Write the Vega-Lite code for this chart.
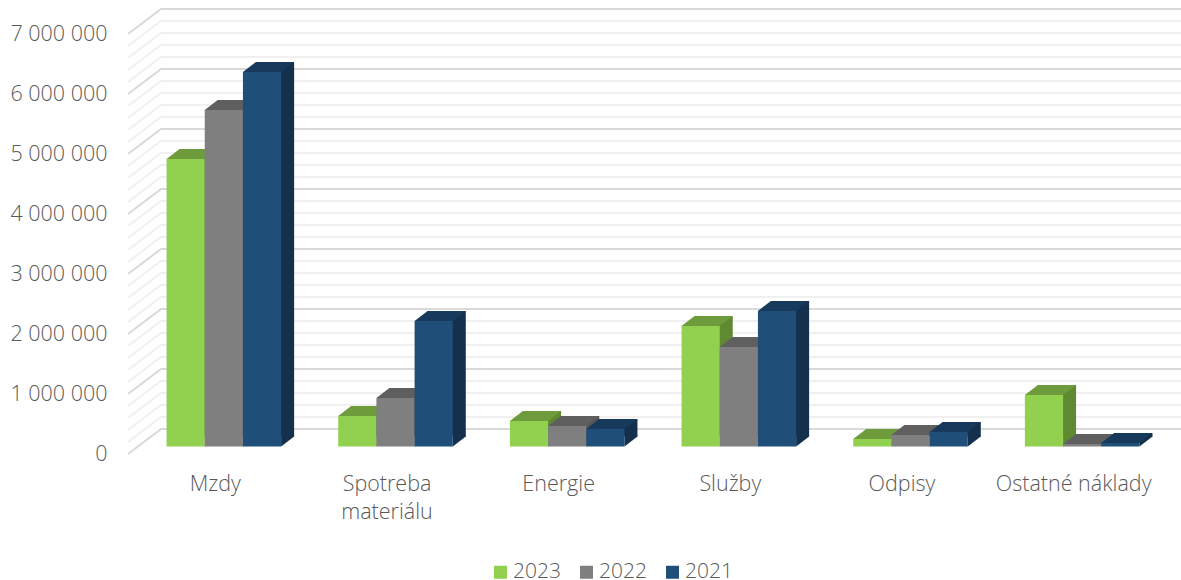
{"$schema":"https://vega.github.io/schema/vega-lite/v6.json","width":1030,"height":420,"autosize":{"type":"none"},"padding":{"left":138,"top":26.5,"right":13,"bottom":133.5},"background":"white","view":{"stroke":null},"config":{"font":"Open Sans"},"datasets":{"bars":[{"cat":"Mzdy","year":"2023","value":4790000},{"cat":"Mzdy","year":"2022","value":5610000},{"cat":"Mzdy","year":"2021","value":6240000},{"cat":"Spotreba materiálu","year":"2023","value":510000},{"cat":"Spotreba materiálu","year":"2022","value":810000},{"cat":"Spotreba materiálu","year":"2021","value":2090000},{"cat":"Energie","year":"2023","value":425000},{"cat":"Energie","year":"2022","value":340000},{"cat":"Energie","year":"2021","value":290000},{"cat":"Služby","year":"2023","value":2010000},{"cat":"Služby","year":"2022","value":1660000},{"cat":"Služby","year":"2021","value":2260000},{"cat":"Odpisy","year":"2023","value":125000},{"cat":"Odpisy","year":"2022","value":190000},{"cat":"Odpisy","year":"2021","value":240000},{"cat":"Ostatné náklady","year":"2023","value":860000},{"cat":"Ostatné náklady","year":"2022","value":40000},{"cat":"Ostatné náklady","year":"2021","value":60000}],"grid":[{"cat":"Mzdy","value":0,"major":true},{"cat":"Mzdy","value":200000,"major":false},{"cat":"Mzdy","value":400000,"major":false},{"cat":"Mzdy","value":600000,"major":false},{"cat":"Mzdy","value":800000,"major":false},{"cat":"Mzdy","value":1000000,"major":true},{"cat":"Mzdy","value":1200000,"major":false},{"cat":"Mzdy","value":1400000,"major":false},{"cat":"Mzdy","value":1600000,"major":false},{"cat":"Mzdy","value":1800000,"major":false},{"cat":"Mzdy","value":2000000,"major":true},{"cat":"Mzdy","value":2200000,"major":false},{"cat":"Mzdy","value":2400000,"major":false},{"cat":"Mzdy","value":2600000,"major":false},{"cat":"Mzdy","value":2800000,"major":false},{"cat":"Mzdy","value":3000000,"major":true},{"cat":"Mzdy","value":3200000,"major":false},{"cat":"Mzdy","value":3400000,"major":false},{"cat":"Mzdy","value":3600000,"major":false},{"cat":"Mzdy","value":3800000,"major":false},{"cat":"Mzdy","value":4000000,"major":true},{"cat":"Mzdy","value":4200000,"major":false},{"cat":"Mzdy","value":4400000,"major":false},{"cat":"Mzdy","value":4600000,"major":false},{"cat":"Mzdy","value":4800000,"major":false},{"cat":"Mzdy","value":5000000,"major":true},{"cat":"Mzdy","value":5200000,"major":false},{"cat":"Mzdy","value":5400000,"major":false},{"cat":"Mzdy","value":5600000,"major":false},{"cat":"Mzdy","value":5800000,"major":false},{"cat":"Mzdy","value":6000000,"major":true},{"cat":"Mzdy","value":6200000,"major":false},{"cat":"Mzdy","value":6400000,"major":false},{"cat":"Mzdy","value":6600000,"major":false},{"cat":"Mzdy","value":6800000,"major":false},{"cat":"Mzdy","value":7000000,"major":true}]},"encoding":{"x":{"field":"cat","type":"nominal","title":null,"scale":{"domain":["Mzdy","Spotreba materiálu","Energie","Služby","Odpisy","Ostatné náklady"],"paddingInner":0,"paddingOuter":0},"axis":{"title":null,"domain":false,"ticks":false,"grid":false,"labelAngle":0,"labelFontSize":21.5,"labelFont":"Open Sans","labelFontWeight":300,"labelColor":"#595959","labelPadding":27,"labelOffset":-8.5,"labelLimit":300,"labelLineHeight":28,"labelExpr":"datum.value=='Spotreba materiálu'?['Spotreba','materiálu']:datum.label"}},"y":{"field":"value","type":"quantitative","title":null,"scale":{"domain":[0,7000000],"nice":false},"axis":{"title":null,"domain":false,"ticks":false,"grid":false,"values":[0,1000000,2000000,3000000,4000000,5000000,6000000,7000000],"labelExpr":"replace(format(datum.value,','),/,/g,' ')","labelFontSize":21.5,"labelFont":"Open Sans","labelFontWeight":300,"labelColor":"#595959","labelPadding":31,"labelOffset":8}}},"layer":[{"data":{"name":"grid"},"layer":[{"transform":[{"filter":"!datum.major"}],"mark":{"type":"point","shape":"M0,0L33,-25L1053,-25","size":4,"filled":false,"opacity":1,"stroke":"#f0f0f0","strokeWidth":2,"xOffset":-95.83,"yOffset":7.5}},{"transform":[{"filter":"datum.major"}],"mark":{"type":"point","shape":"M0,0L33,-25L1053,-25","size":4,"filled":false,"opacity":1,"stroke":"#d9d9d9","strokeWidth":2,"xOffset":-95.83,"yOffset":7.5}}]},{"data":{"name":"bars"},"transform":[{"filter":"datum.year=='2023'"}],"resolve":{"scale":{"xOffset":"independent"}},"layer":[{"mark":{"type":"bar","color":"#5f8a32","yOffset":-10,"y2Offset":-10},"encoding":{"xOffset":{"field":"year","type":"nominal","scale":{"domain":["2023","2022","2021"],"paddingInner":0,"paddingOuter":0.7475,"align":0.7277}}}},{"mark":{"type":"point","shape":"M19.1,0L32.1,-10L32.1,-11L19.1,-11Z","size":4,"filled":true,"opacity":1,"color":"#5f8a32","strokeWidth":0},"encoding":{"xOffset":{"field":"year","type":"nominal","scale":{"type":"band","domain":["2023","2022","2021"],"paddingInner":0,"paddingOuter":0.7475}},"y":{"datum":0,"type":"quantitative","title":null,"scale":{"domain":[0,7000000],"nice":false},"axis":{"title":null,"domain":false,"ticks":false,"grid":false,"values":[0,1000000,2000000,3000000,4000000,5000000,6000000,7000000],"labelExpr":"replace(format(datum.value,','),/,/g,' ')","labelFontSize":21.5,"labelFont":"Open Sans","labelFontWeight":300,"labelColor":"#595959","labelPadding":31,"labelOffset":8}}}},{"mark":{"type":"point","shape":"M-19.1,0L-6.1,-10L32.1,-10L19.1,0Z","size":4,"filled":true,"opacity":1,"color":"#6e9c3c","strokeWidth":0},"encoding":{"xOffset":{"field":"year","type":"nominal","scale":{"type":"band","domain":["2023","2022","2021"],"paddingInner":0,"paddingOuter":0.7475}}}},{"mark":{"type":"bar"},"encoding":{"xOffset":{"field":"year","type":"nominal","scale":{"domain":["2023","2022","2021"],"paddingInner":0,"paddingOuter":0.7475}},"color":{"field":"year","type":"nominal","scale":{"domain":["2023","2022","2021"],"range":["#92d050","#7f7f7f","#1f4e79"]},"legend":{"title":null,"orient":"none","legendX":352,"legendY":535,"direction":"horizontal","columns":3,"symbolType":"square","symbolSize":169,"symbolStrokeWidth":0,"labelFontSize":21,"labelFont":"Open Sans","labelFontWeight":300,"labelColor":"#595959","labelOffset":2,"columnPadding":15,"symbolOpacity":1}}}}]},{"data":{"name":"bars"},"transform":[{"filter":"datum.year=='2022'"}],"resolve":{"scale":{"xOffset":"independent"}},"layer":[{"mark":{"type":"bar","color":"#555555","yOffset":-10,"y2Offset":-10},"encoding":{"xOffset":{"field":"year","type":"nominal","scale":{"domain":["2023","2022","2021"],"paddingInner":0,"paddingOuter":0.7475,"align":0.7277}}}},{"mark":{"type":"point","shape":"M19.1,0L32.1,-10L32.1,-11L19.1,-11Z","size":4,"filled":true,"opacity":1,"color":"#555555","strokeWidth":0},"encoding":{"xOffset":{"field":"year","type":"nominal","scale":{"type":"band","domain":["2023","2022","2021"],"paddingInner":0,"paddingOuter":0.7475}},"y":{"datum":0,"type":"quantitative","title":null,"scale":{"domain":[0,7000000],"nice":false},"axis":{"title":null,"domain":false,"ticks":false,"grid":false,"values":[0,1000000,2000000,3000000,4000000,5000000,6000000,7000000],"labelExpr":"replace(format(datum.value,','),/,/g,' ')","labelFontSize":21.5,"labelFont":"Open Sans","labelFontWeight":300,"labelColor":"#595959","labelPadding":31,"labelOffset":8}}}},{"mark":{"type":"point","shape":"M-19.1,0L-6.1,-10L32.1,-10L19.1,0Z","size":4,"filled":true,"opacity":1,"color":"#5f5f5f","strokeWidth":0},"encoding":{"xOffset":{"field":"year","type":"nominal","scale":{"type":"band","domain":["2023","2022","2021"],"paddingInner":0,"paddingOuter":0.7475}}}},{"mark":{"type":"bar"},"encoding":{"xOffset":{"field":"year","type":"nominal","scale":{"domain":["2023","2022","2021"],"paddingInner":0,"paddingOuter":0.7475}},"color":{"field":"year","type":"nominal","scale":{"domain":["2023","2022","2021"],"range":["#92d050","#7f7f7f","#1f4e79"]},"legend":{"title":null,"orient":"none","legendX":352,"legendY":535,"direction":"horizontal","columns":3,"symbolType":"square","symbolSize":169,"symbolStrokeWidth":0,"labelFontSize":21,"labelFont":"Open Sans","labelFontWeight":300,"labelColor":"#595959","labelOffset":2,"columnPadding":15,"symbolOpacity":1}}}}]},{"data":{"name":"bars"},"transform":[{"filter":"datum.year=='2021'"}],"resolve":{"scale":{"xOffset":"independent"}},"layer":[{"mark":{"type":"bar","color":"#15304d","yOffset":-10,"y2Offset":-10},"encoding":{"xOffset":{"field":"year","type":"nominal","scale":{"domain":["2023","2022","2021"],"paddingInner":0,"paddingOuter":0.7475,"align":0.7277}}}},{"mark":{"type":"point","shape":"M19.1,0L32.1,-10L32.1,-11L19.1,-11Z","size":4,"filled":true,"opacity":1,"color":"#15304d","strokeWidth":0},"encoding":{"xOffset":{"field":"year","type":"nominal","scale":{"type":"band","domain":["2023","2022","2021"],"paddingInner":0,"paddingOuter":0.7475}},"y":{"datum":0,"type":"quantitative","title":null,"scale":{"domain":[0,7000000],"nice":false},"axis":{"title":null,"domain":false,"ticks":false,"grid":false,"values":[0,1000000,2000000,3000000,4000000,5000000,6000000,7000000],"labelExpr":"replace(format(datum.value,','),/,/g,' ')","labelFontSize":21.5,"labelFont":"Open Sans","labelFontWeight":300,"labelColor":"#595959","labelPadding":31,"labelOffset":8}}}},{"mark":{"type":"point","shape":"M-19.1,0L-6.1,-10L32.1,-10L19.1,0Z","size":4,"filled":true,"opacity":1,"color":"#17395c","strokeWidth":0},"encoding":{"xOffset":{"field":"year","type":"nominal","scale":{"type":"band","domain":["2023","2022","2021"],"paddingInner":0,"paddingOuter":0.7475}}}},{"mark":{"type":"bar"},"encoding":{"xOffset":{"field":"year","type":"nominal","scale":{"domain":["2023","2022","2021"],"paddingInner":0,"paddingOuter":0.7475}},"color":{"field":"year","type":"nominal","scale":{"domain":["2023","2022","2021"],"range":["#92d050","#7f7f7f","#1f4e79"]},"legend":{"title":null,"orient":"none","legendX":352,"legendY":535,"direction":"horizontal","columns":3,"symbolType":"square","symbolSize":169,"symbolStrokeWidth":0,"labelFontSize":21,"labelFont":"Open Sans","labelFontWeight":300,"labelColor":"#595959","labelOffset":2,"columnPadding":15,"symbolOpacity":1}}}}]}]}
